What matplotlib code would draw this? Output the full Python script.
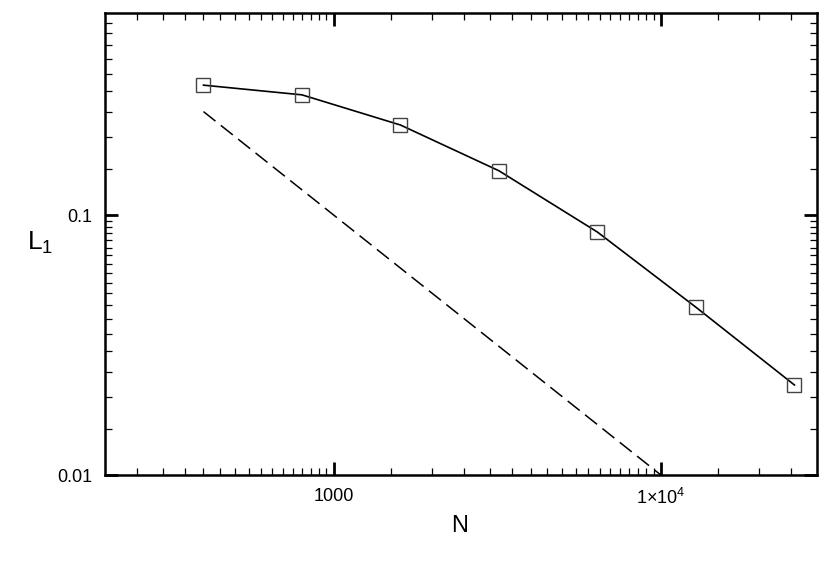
import numpy as np
import matplotlib.pyplot as plt
from matplotlib.ticker import FixedLocator, FixedFormatter, NullFormatter

plt.rcParams['font.family'] = ['Liberation Sans', 'DejaVu Sans']
plt.rcParams['mathtext.fontset'] = 'custom'
plt.rcParams['mathtext.rm'] = 'Liberation Sans'
plt.rcParams['mathtext.it'] = 'Liberation Sans'

# -----------------------------
# data
# -----------------------------
N = [400, 800, 1600, 3200, 6400, 12800, 25600]
L1 = [0.316, 0.29, 0.222, 0.148, 0.086, 0.0442, 0.0222]

# reference slope -1 line
ref_N = [400, 10000]
ref_L = [0.25, 0.01]

x_major = [1000, 10000]
x_major_labels = ['1000', '1×10$^4$']
y_major = [0.01, 0.1]
y_major_labels = ['0.01', '0.1']

fig = plt.figure(figsize=(8.3, 5.8), dpi=100)
ax = fig.add_axes([0.1265, 0.181, 0.8578, 0.797])

ax.plot(N, L1, color='black', lw=1.2, marker='s', ms=9.5,
        mfc='none', mec='#444444', mew=1.0)
ax.plot(ref_N, ref_L, color='black', lw=1.1, ls=(0, (10, 4.5)))

ax.set_xscale('log')
ax.set_yscale('log')
ax.set_xlim(200, 30000)
ax.set_ylim(0.01, 0.6)

# minor ticks, linear steps inside each decade
x_minor = np.concatenate([np.arange(250, 1000, 50),
                          np.arange(1500, 10000, 500),
                          np.arange(15000, 30000, 5000)])
y_minor = np.concatenate([np.arange(0.015, 0.0999, 0.005),
                          np.arange(0.15, 0.6, 0.05)])

ax.xaxis.set_major_locator(FixedLocator(x_major))
ax.xaxis.set_major_formatter(FixedFormatter(x_major_labels))
ax.xaxis.set_minor_locator(FixedLocator(x_minor))
ax.xaxis.set_minor_formatter(NullFormatter())
ax.yaxis.set_major_locator(FixedLocator(y_major))
ax.yaxis.set_major_formatter(FixedFormatter(y_major_labels))
ax.yaxis.set_minor_locator(FixedLocator(y_minor))
ax.yaxis.set_minor_formatter(NullFormatter())

ax.tick_params(which='both', direction='in', top=True, right=True)
ax.tick_params(which='major', length=9.5, width=2.0, labelsize=13, pad=9)
ax.tick_params(which='minor', length=4.8, width=0.9)

for s in ax.spines.values():
    s.set_linewidth(1.8)

fig.text(0.554, 0.093, 'N', fontsize=17, ha='center', va='center')
fig.text(0.048, 0.582, '$\\mathrm{L_1}$', fontsize=19, ha='center', va='center')

fig.savefig('out.png', dpi=100)
